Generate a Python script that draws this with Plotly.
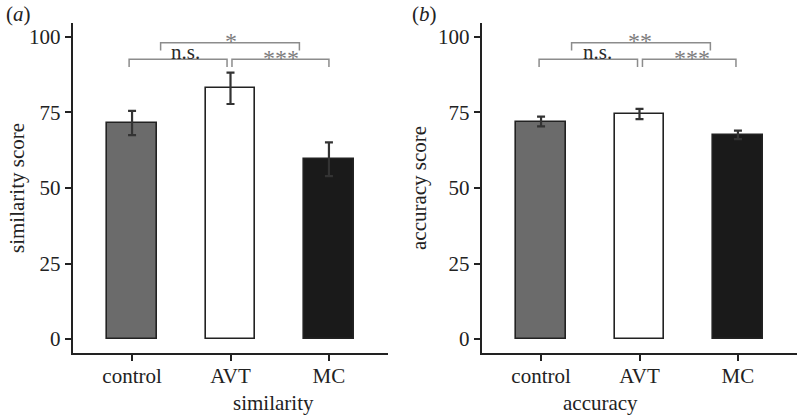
import plotly.graph_objects as go

# data
groups = ["control", "AVT", "MC"]
similarity_mean = [71.5, 83.0, 59.5]
similarity_err = [4.0, 5.2, 5.6]
accuracy_mean = [72.0, 74.5, 67.6]
accuracy_err = [1.6, 1.7, 1.4]
bar_colors = ["#6b6b6b", "#ffffff", "#1a1a1a"]
y_ticks = [0, 25, 50, 75, 100]

# significance brackets: (x start, x end, height, label, label x)
sim_brackets = [(-0.03, 0.965, 92.6, "n.s.", 0.54),
                (1.015, 2.0, 92.6, "***", 1.51),
                (0.29, 1.70, 98.1, "*", 1.0)]
acc_brackets = [(-0.02, 0.98, 92.6, "n.s.", 0.57),
                (1.03, 1.98, 92.6, "***", 1.53),
                (0.31, 1.72, 98.1, "**", 1.0)]

FONT = "Liberation Serif"
FS = 21
W, H = 798, 417
# pixel layout
y_top, y_bot = 23, 353
panels = [
    dict(x0=73, x1=388, mean=similarity_mean, err=similarity_err,
         brackets=sim_brackets, ytitle="similarity score", xtitle="similarity",
         tag="(<i>a</i>)", tag_x=4, ytitle_x=17),
    dict(x0=482, x1=797, mean=accuracy_mean, err=accuracy_err,
         brackets=acc_brackets, ytitle="accuracy score", xtitle="accuracy",
         tag="(<i>b</i>)", tag_x=410, ytitle_x=419),
]

fig = go.Figure()
annotations = []
idx = list(range(len(groups)))

for i, p in enumerate(panels, start=1):
    xa = "x" if i == 1 else f"x{i}"
    ya = "y" if i == 1 else f"y{i}"
    fig.add_trace(go.Bar(
        x=idx, y=p["mean"], width=0.5, xaxis=xa, yaxis=ya,
        marker=dict(color=bar_colors, line=dict(color="#222222", width=1.6)),
        error_y=dict(type="data", array=p["err"], color="#333333",
                     thickness=2.2, width=4),
        showlegend=False, hoverinfo="skip"))

    for x0, x1, h, lab, lx in p["brackets"]:
        fig.add_trace(go.Scatter(
            x=[x0, x0, x1, x1], y=[h - 2.6, h, h, h - 2.6], mode="lines",
            line=dict(color="#8c8c8c", width=1.5), xaxis=xa, yaxis=ya,
            showlegend=False, hoverinfo="skip"))
        if lab == "n.s.":
            annotations.append(dict(x=lx, y=h - 2.2, xref=xa, yref=ya, text=lab,
                                    showarrow=False, yanchor="bottom",
                                    font=dict(family=FONT, size=FS, color="#2a2a2a")))
        else:
            annotations.append(dict(x=lx, y=h - 4.4, xref=xa, yref=ya, text=lab,
                                    showarrow=False, yanchor="bottom",
                                    font=dict(family=FONT, size=24, color="#7d7d7d")))

    ax = dict(domain=[p["x0"] / W, p["x1"] / W], range=[-0.6, 2.6],
              tickvals=idx, ticktext=groups, showline=True, linecolor="#222222",
              linewidth=2.4, ticks="outside", ticklen=6, tickwidth=2.2,
              tickcolor="#222222", showgrid=False, zeroline=False,
              ticklabelstandoff=-3,
              tickfont=dict(family=FONT, size=FS, color="#222222"),
              anchor=ya)
    ay = dict(domain=[1 - y_bot / H, 1 - y_top / H], range=[-4.6, 104.6],
              tickvals=y_ticks, showline=True, linecolor="#222222",
              linewidth=2.4, ticks="outside", ticklen=6, tickwidth=2.2,
              tickcolor="#222222", showgrid=False, zeroline=False,
              tickfont=dict(family=FONT, size=FS, color="#222222"),
              anchor=xa)
    fig.update_layout(**{("xaxis" if i == 1 else f"xaxis{i}"): ax,
                         ("yaxis" if i == 1 else f"yaxis{i}"): ay})

    mid = (p["x0"] + p["x1"]) / 2 / W
    annotations.append(dict(x=mid, y=1 - 403 / H, xref="paper", yref="paper",
                            text=p["xtitle"], showarrow=False, yanchor="middle",
                            font=dict(family=FONT, size=FS, color="#222222")))
    annotations.append(dict(x=p["ytitle_x"] / W, y=1 - 188 / H, xref="paper",
                            yref="paper", text=p["ytitle"], showarrow=False,
                            textangle=-90, xanchor="center", yanchor="middle",
                            font=dict(family=FONT, size=FS, color="#222222")))
    annotations.append(dict(x=p["tag_x"] / W, y=1 - 14 / H, xref="paper",
                            yref="paper", text=p["tag"], showarrow=False,
                            xanchor="left", yanchor="middle",
                            font=dict(family=FONT, size=FS, color="#222222")))

fig.update_layout(width=W, height=H, margin=dict(l=0, r=0, t=0, b=0),
                  paper_bgcolor="white", plot_bgcolor="white",
                  annotations=annotations, bargap=0)

# drop the default page margin so the figure fills the window
fig.write_html("out.html", config={"displayModeBar": False},
               post_script="document.body.style.margin='0';")
